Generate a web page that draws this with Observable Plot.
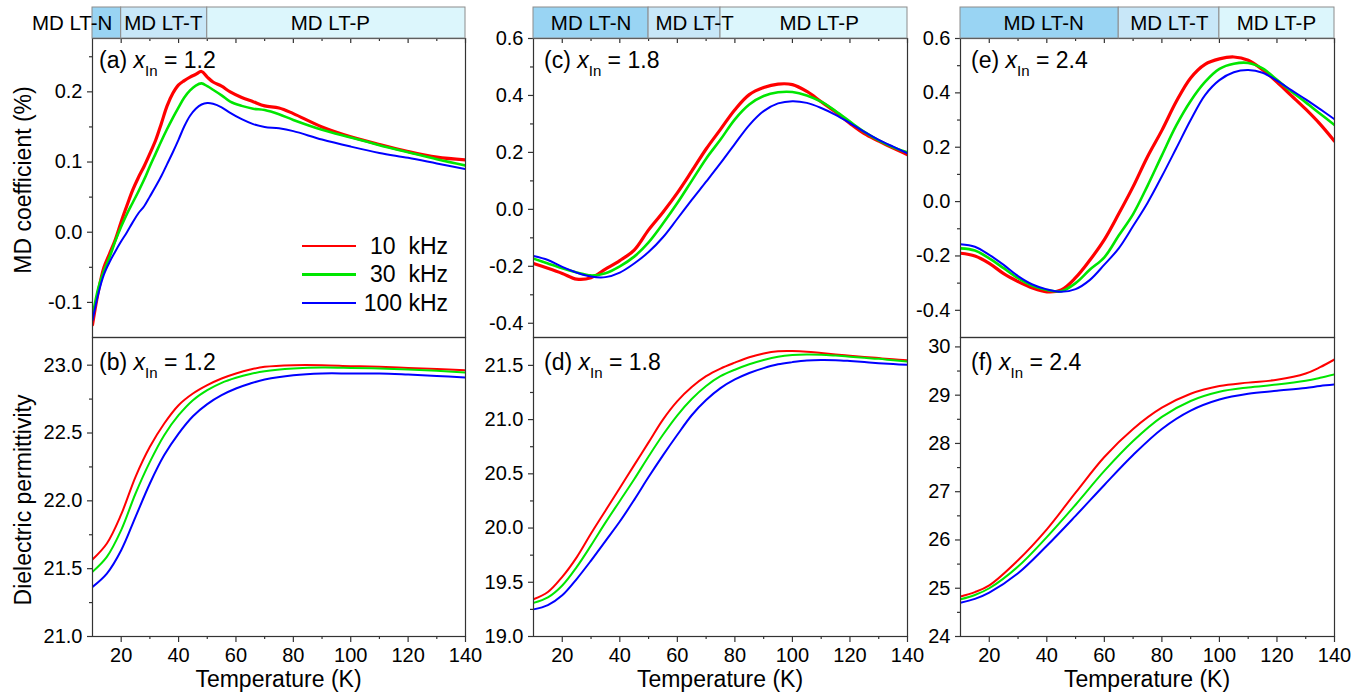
<!DOCTYPE html>
<html><head><meta charset="utf-8">
<script src="https://cdn.jsdelivr.net/npm/d3@7"></script>
<script src="https://cdn.jsdelivr.net/npm/@observablehq/plot@0.6"></script>
<style>
html,body{margin:0;padding:0;background:#fff;}
#wrap{position:relative;width:1371px;height:698px;overflow:hidden;font-family:Arial,"Liberation Sans",Helvetica,sans-serif;color:#000;}
#wrap svg{overflow:visible;display:block;}
.box{position:absolute;}
.plbl{position:absolute;font-size:23px;line-height:23px;white-space:nowrap;}
.plbl sub{font-size:15px;line-height:0;vertical-align:-8px;}
.ytitle{position:absolute;font-size:23px;line-height:23px;white-space:nowrap;transform:translate(-50%,-50%) rotate(-90deg);}
.xtitle{position:absolute;font-size:23px;line-height:23px;white-space:nowrap;transform:translateX(-50%);}
.leg{position:absolute;font-size:23px;line-height:23px;white-space:pre;text-align:right;}
.legline{position:absolute;height:2.5px;}
</style></head><body><div id="wrap"></div><script>
// ---------------- data ----------------
const freqLabels = ["10  kHz", "30  kHz", "100 kHz"];
const freqColors = ["#ff0000", "#00e600", "#0000ff"];

const tempMajor = [20, 40, 60, 80, 100, 120, 140];
const tempMinor = [30, 50, 70, 90, 110, 130];

const phaseNames = ["MD LT-N", "MD LT-T", "MD LT-P"];
const phaseColors = ["#99d4f3", "#c8e7f8", "#dcf6fc"];
const phaseBounds_a = [10, 20, 50, 140];
const phaseLabelT_a = [2.9, 34.7, 92.9];
const phaseBounds_c = [10, 50, 75, 140];
const phaseLabelT_c = [30, 66, 109.3];
const phaseBounds_e = [10, 65, 100, 140];
const phaseLabelT_e = [38.9, 82.6, 119.8];

// (a) MD coefficient, x_In = 1.2
const T_a = [10,12,14,16,18,20,22,24,26,28,30,32,34,36,38,40,42,44,46,48,50,52,55,58,62,66,70,75,80,90,100,110,120,130,140];
const md_a_10k  = [-0.132,-0.085,-0.050,-0.030,-0.010,0.015,0.038,0.060,0.078,0.094,0.112,0.131,0.155,0.180,0.198,0.210,0.216,0.221,0.225,0.229,0.221,0.214,0.208,0.200,0.192,0.186,0.180,0.177,0.169,0.150,0.136,0.125,0.115,0.107,0.103];
const md_a_30k  = [-0.120,-0.080,-0.055,-0.035,-0.012,0.008,0.026,0.042,0.058,0.075,0.094,0.112,0.130,0.147,0.163,0.178,0.192,0.202,0.209,0.212,0.208,0.203,0.195,0.186,0.180,0.176,0.174,0.168,0.160,0.146,0.135,0.124,0.114,0.104,0.095];
const md_a_100k = [-0.126,-0.088,-0.060,-0.042,-0.027,-0.013,0.000,0.014,0.027,0.037,0.051,0.065,0.080,0.097,0.114,0.132,0.151,0.166,0.176,0.182,0.184,0.183,0.178,0.170,0.161,0.154,0.150,0.148,0.144,0.132,0.122,0.113,0.106,0.098,0.090];

// 5 K grid used by (c), (d), (e)
const T_5 = [10,15,20,25,30,35,40,45,50,55,60,65,70,75,80,85,90,95,100,105,110,115,120,125,130,135,140];
// (c) MD coefficient, x_In = 1.8
const md_c_10k  = [-0.190,-0.207,-0.225,-0.245,-0.240,-0.210,-0.180,-0.143,-0.072,-0.010,0.058,0.134,0.212,0.281,0.350,0.403,0.428,0.440,0.438,0.414,0.378,0.342,0.302,0.266,0.240,0.215,0.192];
const md_c_30k  = [-0.173,-0.190,-0.207,-0.222,-0.232,-0.224,-0.200,-0.166,-0.116,-0.050,0.022,0.100,0.178,0.245,0.316,0.368,0.398,0.411,0.412,0.400,0.378,0.345,0.308,0.272,0.242,0.218,0.200];
const md_c_100k = [-0.164,-0.178,-0.202,-0.222,-0.236,-0.238,-0.222,-0.190,-0.150,-0.098,-0.033,0.033,0.097,0.162,0.230,0.296,0.345,0.372,0.380,0.374,0.356,0.332,0.303,0.272,0.244,0.220,0.197];
// (e) MD coefficient, x_In = 2.4
const md_e_10k  = [-0.190,-0.200,-0.227,-0.265,-0.294,-0.318,-0.332,-0.325,-0.280,-0.215,-0.140,-0.045,0.055,0.165,0.262,0.368,0.455,0.505,0.525,0.532,0.520,0.485,0.440,0.390,0.340,0.285,0.222];
const md_e_30k  = [-0.172,-0.180,-0.209,-0.245,-0.282,-0.310,-0.325,-0.330,-0.300,-0.250,-0.205,-0.125,-0.046,0.058,0.170,0.280,0.370,0.440,0.488,0.507,0.510,0.490,0.448,0.405,0.365,0.323,0.282];
const md_e_100k = [-0.157,-0.166,-0.196,-0.233,-0.274,-0.305,-0.323,-0.332,-0.322,-0.288,-0.232,-0.172,-0.090,-0.005,0.093,0.196,0.300,0.392,0.447,0.476,0.484,0.474,0.445,0.410,0.376,0.340,0.303];

// (b) permittivity, x_In = 1.2
const T_b = [10,15,20,25,30,35,40,45,50,55,60,65,70,80,90,100,110,120,130,140];
const eps_b_10k  = [21.568,21.686,21.900,22.177,22.398,22.570,22.705,22.791,22.853,22.902,22.939,22.968,22.988,23.000,23.000,22.993,22.988,22.980,22.972,22.963];
const eps_b_30k  = [21.477,21.587,21.784,22.054,22.287,22.484,22.631,22.742,22.816,22.870,22.907,22.935,22.955,22.975,22.983,22.980,22.975,22.968,22.958,22.946];
const eps_b_100k = [21.366,21.464,21.636,21.882,22.128,22.337,22.496,22.624,22.713,22.779,22.828,22.865,22.894,22.926,22.939,22.939,22.939,22.931,22.921,22.909];
// (d) permittivity, x_In = 1.8
const eps_d_10k  = [19.344,19.410,19.550,19.730,19.950,20.160,20.370,20.580,20.790,21.000,21.170,21.300,21.400,21.470,21.525,21.575,21.610,21.630,21.632,21.626,21.613,21.600,21.589,21.578,21.567,21.556,21.546];
const eps_d_30k  = [19.310,19.360,19.470,19.640,19.840,20.050,20.250,20.450,20.660,20.860,21.040,21.190,21.310,21.400,21.460,21.510,21.550,21.580,21.595,21.600,21.598,21.590,21.580,21.570,21.560,21.547,21.535];
const eps_d_100k = [19.250,19.290,19.380,19.530,19.700,19.880,20.060,20.260,20.470,20.670,20.860,21.040,21.180,21.290,21.370,21.430,21.475,21.510,21.530,21.545,21.550,21.548,21.540,21.530,21.520,21.512,21.505];
// (f) permittivity, x_In = 2.4
const T_f = [10,15,20,30,40,50,60,70,80,90,100,110,120,130,135,140];
const eps_f_10k  = [24.83,24.92,25.06,25.58,26.22,26.98,27.72,28.30,28.74,29.03,29.19,29.26,29.32,29.45,29.58,29.74];
const eps_f_30k  = [24.77,24.86,25.00,25.45,26.06,26.73,27.43,28.05,28.55,28.88,29.07,29.16,29.22,29.30,29.36,29.43];
const eps_f_100k = [24.70,24.78,24.91,25.31,25.88,26.50,27.14,27.76,28.30,28.68,28.91,29.03,29.09,29.15,29.19,29.22];

// tick values
const mdTicks_a = [-0.1, 0, 0.1, 0.2];
const mdMinor_a = [-0.05, 0.05, 0.15, 0.25];
const mdTicks_ce = [-0.4, -0.2, 0, 0.2, 0.4, 0.6];
const mdMinor_ce = [-0.3, -0.1, 0.1, 0.3, 0.5];
const epsTicks_b = [21, 21.5, 22, 22.5, 23];
const epsMinor_b = [21.25, 21.75, 22.25, 22.75];
const epsTicks_d = [19, 19.5, 20, 20.5, 21, 21.5];
const epsMinor_d = [19.25, 19.75, 20.25, 20.75, 21.25];
const epsTicks_f = [24, 25, 26, 27, 28, 29, 30];
const epsMinor_f = [24.5, 25.5, 26.5, 27.5, 28.5, 29.5];

// ---------------- layout ----------------
const wrap = document.getElementById("wrap");
const FONT = "Arial, 'Liberation Sans', Helvetica, sans-serif";
const BAND_TOP = 7, BAND_H = 31, TOP_Y = 38, PANEL_H = 299, BOT_Y = 337;
const AX = "#333";

function place(el, left, top, w) {
  const d = document.createElement("div");
  d.className = "box";
  d.style.left = left + "px"; d.style.top = top + "px";
  if (w) d.style.width = w + "px";
  d.appendChild(el); wrap.appendChild(d);
}
function html(cls, inner, styles) {
  const d = document.createElement("div");
  d.className = cls; d.innerHTML = inner;
  Object.assign(d.style, styles); wrap.appendChild(d);
  return d;
}
function seriesMarks(T, series, widths) {
  return series.map((vals, i) => Plot.line(T.map((t, j) => ({T: t, v: vals[j]})),
    {x: "T", y: "v", stroke: freqColors[i], strokeWidth: widths[i], curve: "catmull-rom", clip: true}));
}
const style = {fontFamily: FONT, fontSize: "20px", color: "#000", background: "transparent", overflow: "visible"};

function bandPlot(left, width, bounds, labelT) {
  const phases = phaseNames.map((n, i) => ({name: n, start: bounds[i], end: bounds[i + 1], color: phaseColors[i], lx: labelT[i]}));
  const ML = 90, MR = 2;
  const p = Plot.plot({
    width: ML + width + MR, height: BAND_H, marginLeft: ML, marginRight: MR, marginTop: 0, marginBottom: 0,
    x: {domain: [10, 140], axis: null}, color: {type: "identity"}, style,
    marks: [
      Plot.rect(phases, {x1: "start", x2: "end", fill: "color", stroke: "#8c8c8c", strokeWidth: 1}),
      Plot.text(phases, {x: "lx", text: "name", frameAnchor: "middle", fontSize: 20.5, fill: "#000"})
    ]
  });
  place(p, left - ML, BAND_TOP, ML + width + MR);
}

function topPlot(left, width, T, series, domain, maj, min) {
  const ML = 70, MR = 2;
  const p = Plot.plot({
    width: ML + width + MR, height: PANEL_H, marginLeft: ML, marginRight: MR, marginTop: 0, marginBottom: 0,
    x: {domain: [10, 140], axis: null}, y: {domain}, style,
    marks: [
      ...seriesMarks(T, series, [3.2, 2.6, 2]),
      Plot.frame({stroke: AX, strokeWidth: 1.2}),
      Plot.tickX(tempMajor, {x: d => d, insetBottom: PANEL_H - 5, stroke: AX, strokeWidth: 1.2}),
      Plot.tickX(tempMinor, {x: d => d, insetBottom: PANEL_H - 3, stroke: AX, strokeWidth: 1.2}),
      Plot.axisY({ticks: maj, tickSize: 5, tickPadding: 5, tickFormat: d => d.toFixed(1), fontSize: 20, label: null, stroke: AX, strokeWidth: 1.2, fill: "#000"}),
      Plot.axisY({ticks: min, tickSize: 3, tickFormat: () => "", label: null, stroke: AX, strokeWidth: 1.2})
    ]
  });
  place(p, left - ML, TOP_Y, ML + width + MR);
}

function bottomPlot(left, width, T, series, domain, maj, min, fmt) {
  const ML = 70, MR = 2, MB = 40;
  const p = Plot.plot({
    width: ML + width + MR, height: PANEL_H + MB, marginLeft: ML, marginRight: MR, marginTop: 0, marginBottom: MB,
    x: {domain: [10, 140]}, y: {domain}, style,
    marks: [
      ...seriesMarks(T, series, [2, 2, 2]),
      Plot.frame({stroke: AX, strokeWidth: 1.2}),
      Plot.axisX({ticks: tempMajor, tickSize: 6, tickPadding: 5, tickFormat: d => String(d), fontSize: 20, label: null, stroke: AX, strokeWidth: 1.2, fill: "#000"}),
      Plot.axisX({ticks: tempMinor, tickSize: 3, tickFormat: () => "", label: null, stroke: AX, strokeWidth: 1.2}),
      Plot.axisY({ticks: maj, tickSize: 5, tickPadding: 5, tickFormat: fmt, fontSize: 20, label: null, stroke: AX, strokeWidth: 1.2, fill: "#000"}),
      Plot.axisY({ticks: min, tickSize: 3, tickFormat: () => "", label: null, stroke: AX, strokeWidth: 1.2})
    ]
  });
  place(p, left - ML, BOT_Y, ML + width + MR);
}

const f1 = d => d.toFixed(1), f0 = d => d.toFixed(0);
const cols = [
  {left: 92, width: 373, bounds: phaseBounds_a, labelT: phaseLabelT_a,
   top: [T_a, [md_a_10k, md_a_30k, md_a_100k], [-0.15, 0.276], mdTicks_a, mdMinor_a],
   bot: [T_b, [eps_b_10k, eps_b_30k, eps_b_100k], [21.0, 23.204], epsTicks_b, epsMinor_b, f1],
   lt: ["a", "1.2"], lb: ["b", "1.2"], lx: 99},
  {left: 533, width: 374, bounds: phaseBounds_c, labelT: phaseLabelT_c,
   top: [T_5, [md_c_10k, md_c_30k, md_c_100k], [-0.45, 0.6], mdTicks_ce, mdMinor_ce],
   bot: [T_5, [eps_d_10k, eps_d_30k, eps_d_100k], [19.0, 21.757], epsTicks_d, epsMinor_d, f1],
   lt: ["c", "1.8"], lb: ["d", "1.8"], lx: 544},
  {left: 960, width: 374, bounds: phaseBounds_e, labelT: phaseLabelT_e,
   top: [T_5, [md_e_10k, md_e_30k, md_e_100k], [-0.5, 0.6], mdTicks_ce, mdMinor_ce],
   bot: [T_f, [eps_f_10k, eps_f_30k, eps_f_100k], [24.0, 30.195], epsTicks_f, epsMinor_f, f0],
   lt: ["e", "2.4"], lb: ["f", "2.4"], lx: 971}
];

cols.forEach(c => {
  topPlot(c.left, c.width, ...c.top);
  bottomPlot(c.left, c.width, ...c.bot);
  bandPlot(c.left, c.width, c.bounds, c.labelT);
  html("plbl", `(${c.lt[0]}) <i>x</i><sub>In</sub> = ${c.lt[1]}`, {left: c.lx + "px", top: "49px"});
  html("plbl", `(${c.lb[0]}) <i>x</i><sub>In</sub> = ${c.lb[1]}`, {left: c.lx + "px", top: "351px"});
  html("xtitle", "Temperature (K)", {left: (c.left + c.width / 2) + "px", top: "668px"});
});

html("ytitle", "MD coefficient (%)", {left: "23px", top: "180px"});
html("ytitle", "Dielectric permittivity", {left: "23px", top: "500px"});

// legend in panel (a)
const legY = [246, 274.5, 303];
freqLabels.forEach((lab, i) => {
  html("legline", "", {left: "302px", width: "54px", top: (legY[i] - 1.25) + "px", background: freqColors[i]});
  html("leg", lab, {left: "348px", width: "100px", top: (legY[i] - 11.3) + "px"});
});
</script></body></html>
